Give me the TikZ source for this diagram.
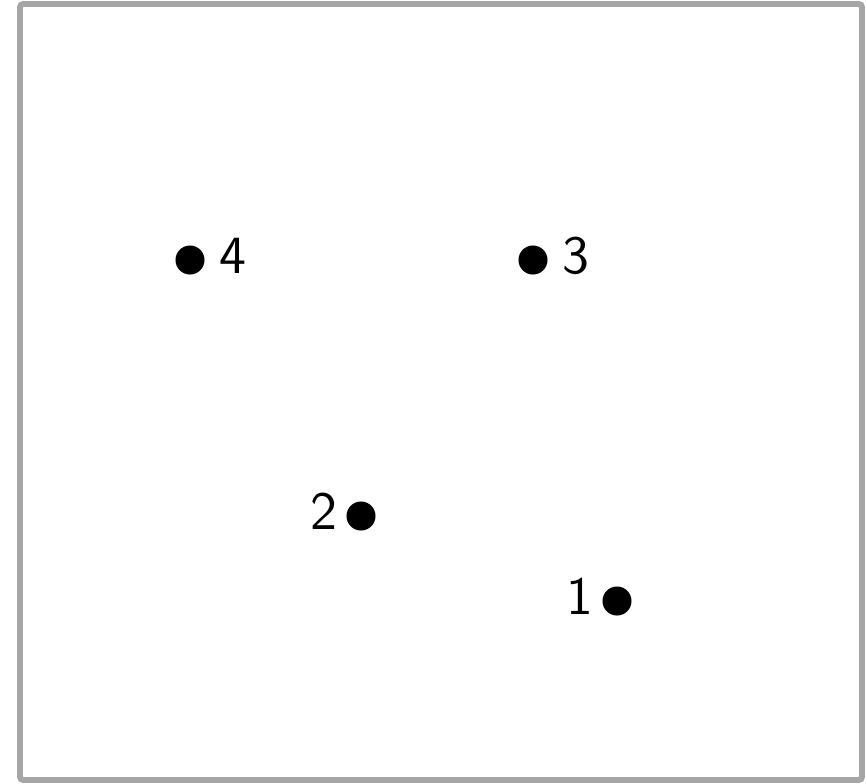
\documentclass[tikz,border=0pt]{standalone}
\usepackage{tikz}
\usetikzlibrary{positioning}
\renewcommand{\familydefault}{\sfdefault}
\definecolor{frameGray}{HTML}{A6A6A6}
\tikzset{
  dotP/.style={circle, fill=black, inner sep=0pt, minimum size=5.4pt},
  labR/.style={yshift=0.8pt, xshift=-1pt},
  labL/.style={yshift=0.8pt, xshift=2pt},
  frameR/.style={draw=frameGray, line width=1.1pt, rounded corners=0.6pt},
}
\begin{document}
\begin{tikzpicture}[x=0.186pt, y=-0.186pt, font=\sffamily]
  \useasboundingbox (0,0) rectangle (866,783);
  % Rahmen
  \draw[frameR] (20,4) rectangle (862,780);
  % Punkte
  \node[dotP, label={[labR]right:4}] (p4) at (190,260) {};
  \node[dotP, label={[labR]right:3}] (p3) at (533,260) {};
  \node[dotP, label={[labL]left:2}] (p2) at (361,516) {};
  \node[dotP, label={[labL]left:1}] (p1) at (617,601) {};
\end{tikzpicture}
\end{document}
